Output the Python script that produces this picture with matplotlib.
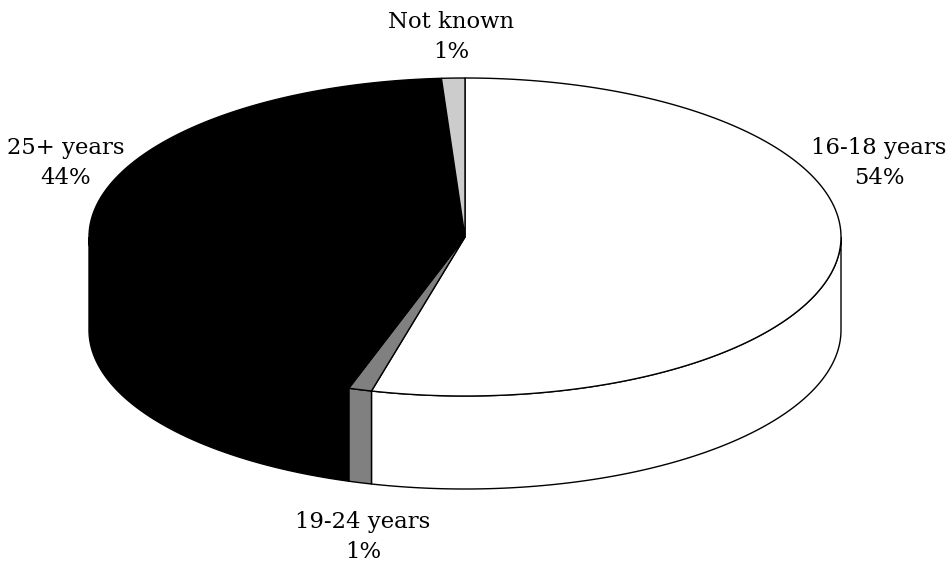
import numpy as np
import matplotlib
matplotlib.use("Agg")
import matplotlib.pyplot as plt
from matplotlib.patches import Polygon

labels = ['16-18 years', '19-24 years', '25+ years', 'Not known']
values = [54, 1, 44, 1]
colors = ['white', '#808080', 'black', '#cccccc']
label_pos = [(879, 163), (363, 537), (66, 163), (451, 37)]

W, H = 952, 569
cx, cy, rx, ry = 465, 237, 376, 159
depth = 93

fig = plt.figure(figsize=(W/100, H/100), dpi=100)
ax = fig.add_axes([0, 0, 1, 1])
ax.set_xlim(0, W)
ax.set_ylim(H, 0)
ax.axis('off')


def rim(a0, a1, n=200):
    # points on the top ellipse, angle in degrees clockwise from 12 o'clock
    t = np.radians(np.linspace(a0, a1, n))
    return np.column_stack([cx + rx*np.sin(t), cy - ry*np.cos(t)])


edges = np.concatenate([[0], np.cumsum(values)]) * 360 / sum(values)

# side wall first, only the part of each slice that faces front (90-270 deg)
for a0, a1, c in zip(edges[:-1], edges[1:], colors):
    lo, hi = max(a0, 90), min(a1, 270)
    if lo >= hi:
        continue
    top = rim(lo, hi)
    bottom = (top + [0, depth])[::-1]
    ax.add_patch(Polygon(np.vstack([top, bottom]), closed=True, fc=c, ec='black', lw=1))

# top face
for a0, a1, c in zip(edges[:-1], edges[1:], colors):
    pts = np.vstack([[cx, cy], rim(a0, a1)])
    ax.add_patch(Polygon(pts, closed=True, fc=c, ec='black', lw=1))

for lab, v, (x, y) in zip(labels, values, label_pos):
    ax.text(x, y, f'{lab}\n{v}%', ha='center', va='center', fontsize=16.4,
            family='DejaVu Serif', linespacing=1.43)

fig.savefig('out.png', dpi=100)
